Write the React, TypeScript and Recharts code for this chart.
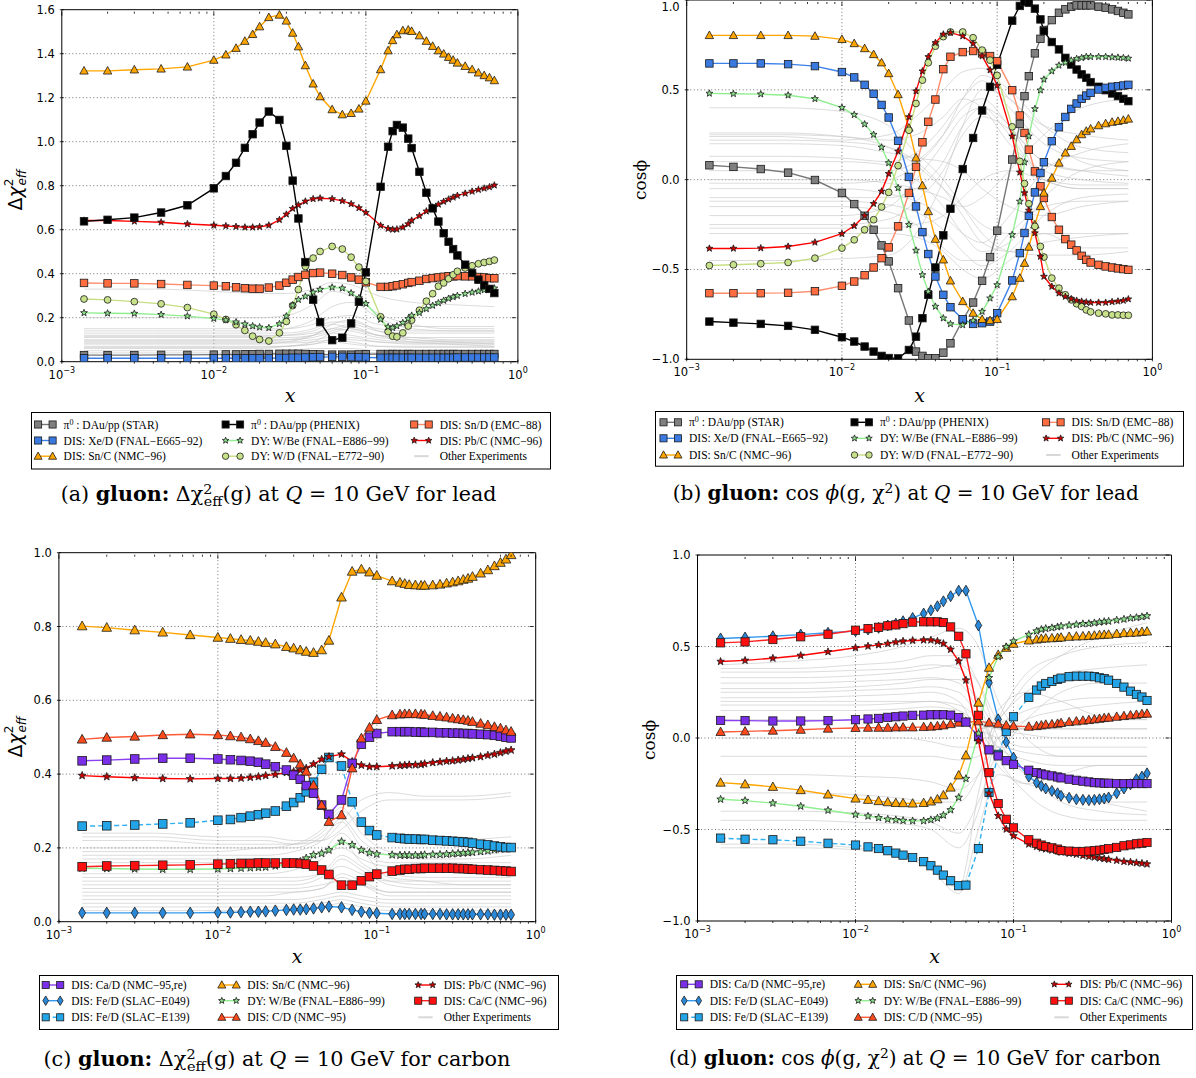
import React from "react";
import { ComposedChart, Line, XAxis, YAxis, ReferenceLine, ReferenceArea } from "recharts";

// x grid of the highlighted experiments
const X = [
  0.0014, 0.002, 0.003, 0.0045, 0.0067, 0.01,
  0.012, 0.014, 0.016, 0.018, 0.02, 0.023,
  0.027, 0.03, 0.033, 0.036, 0.04, 0.045, 0.05,
  0.06, 0.07, 0.08, 0.09, 0.1,
  0.125, 0.14, 0.15, 0.16, 0.175, 0.19, 0.2,
  0.225, 0.25, 0.275, 0.3, 0.325, 0.35, 0.375,
  0.4, 0.45, 0.5, 0.55, 0.6, 0.65, 0.7,
];
// coarser x grid for the grey "other experiments" curves
const GX = [0.0014, 0.004, 0.01, 0.02, 0.03, 0.045, 0.06, 0.08, 0.12, 0.2, 0.35, 0.7];
const X_MAJOR = [0.001, 0.01, 0.1, 1];
const X_MINOR = [0.001, 0.01, 0.1].flatMap((d) => [2, 3, 4, 5, 6, 7, 8, 9].map((m) => d * m));

// ---------- (a) lead, delta chi2 ----------
const aStar = [
  0.030, 0.030, 0.030, 0.031, 0.031, 0.032,
  0.033, 0.033, 0.034, 0.034, 0.035, 0.035,
  0.036, 0.036, 0.036, 0.036, 0.035, 0.034, 0.033,
  0.032, 0.032, 0.032, 0.033, 0.034,
  0.035, 0.035, 0.035, 0.035, 0.035, 0.035, 0.035,
  0.035, 0.035, 0.035, 0.035, 0.035, 0.035, 0.035,
  0.035, 0.035, 0.035, 0.035, 0.035, 0.035, 0.035,
];
const aXeD = [
  0.016, 0.016, 0.016, 0.016, 0.016, 0.016,
  0.016, 0.016, 0.016, 0.016, 0.016, 0.016,
  0.017, 0.017, 0.018, 0.018, 0.019, 0.020, 0.021,
  0.022, 0.022, 0.021, 0.020, 0.019,
  0.018, 0.018, 0.018, 0.018, 0.018, 0.018, 0.018,
  0.018, 0.018, 0.018, 0.018, 0.018, 0.018, 0.018,
  0.019, 0.019, 0.019, 0.019, 0.019, 0.019, 0.019,
];
const aSnC = [
  1.322, 1.322, 1.327, 1.331, 1.340, 1.371,
  1.395, 1.425, 1.457, 1.488, 1.523, 1.565,
  1.576, 1.549, 1.494, 1.432, 1.346, 1.263, 1.205,
  1.146, 1.123, 1.129, 1.149, 1.185,
  1.328, 1.414, 1.460, 1.487, 1.505, 1.508, 1.502,
  1.482, 1.457, 1.434, 1.414, 1.399, 1.384, 1.371,
  1.358, 1.343, 1.328, 1.313, 1.301, 1.291, 1.278,
];
const aPhenix = [
  0.638, 0.645, 0.655, 0.678, 0.711, 0.788,
  0.844, 0.904, 0.972, 1.034, 1.087, 1.137,
  1.099, 0.981, 0.823, 0.651, 0.453, 0.282, 0.180,
  0.098, 0.109, 0.174, 0.272, 0.406,
  0.795, 0.977, 1.048, 1.076, 1.064, 1.014, 0.971,
  0.863, 0.768, 0.697, 0.637, 0.584, 0.545, 0.512,
  0.483, 0.441, 0.403, 0.373, 0.347, 0.331, 0.312,
];
const aWBe = [
  0.222, 0.220, 0.219, 0.214, 0.207, 0.196,
  0.189, 0.180, 0.171, 0.162, 0.157, 0.154,
  0.172, 0.207, 0.257, 0.282, 0.297, 0.315, 0.328,
  0.338, 0.334, 0.312, 0.290, 0.264,
  0.192, 0.158, 0.154, 0.162, 0.177, 0.195, 0.210,
  0.222, 0.240, 0.255, 0.267, 0.278, 0.287, 0.294,
  0.300, 0.309, 0.315, 0.320, 0.326, 0.329, 0.334,
];
const aWD = [
  0.285, 0.281, 0.273, 0.263, 0.246, 0.216,
  0.192, 0.168, 0.142, 0.116, 0.101, 0.094,
  0.131, 0.183, 0.255, 0.328, 0.433, 0.471, 0.501,
  0.524, 0.512, 0.475, 0.430, 0.365,
  0.204, 0.137, 0.116, 0.113, 0.131, 0.162, 0.189,
  0.234, 0.275, 0.309, 0.343, 0.358, 0.377, 0.395,
  0.411, 0.426, 0.436, 0.445, 0.451, 0.456, 0.462,
];
const aSnD = [
  0.358, 0.356, 0.356, 0.353, 0.349, 0.346,
  0.343, 0.338, 0.334, 0.332, 0.332, 0.337,
  0.346, 0.359, 0.373, 0.385, 0.395, 0.403, 0.405,
  0.400, 0.394, 0.383, 0.373, 0.361,
  0.340, 0.340, 0.343, 0.347, 0.352, 0.358, 0.362,
  0.368, 0.376, 0.380, 0.383, 0.386, 0.388, 0.388,
  0.389, 0.388, 0.388, 0.385, 0.383, 0.380, 0.379,
];
const aPbC = [
  0.642, 0.642, 0.638, 0.634, 0.626, 0.620,
  0.617, 0.614, 0.611, 0.611, 0.613, 0.620,
  0.645, 0.670, 0.696, 0.712, 0.729, 0.740, 0.743,
  0.740, 0.731, 0.717, 0.699, 0.678,
  0.619, 0.605, 0.601, 0.602, 0.611, 0.626, 0.642,
  0.663, 0.684, 0.702, 0.715, 0.728, 0.738, 0.747,
  0.755, 0.765, 0.774, 0.782, 0.788, 0.794, 0.802,
];
const aOther = [
  [0.33, 0.33, 0.32, 0.31, 0.31, 0.33, 0.36, 0.35, 0.30, 0.27, 0.26, 0.25],
  [0.20, 0.20, 0.20, 0.20, 0.21, 0.26, 0.32, 0.30, 0.22, 0.17, 0.15, 0.15],
  [0.15, 0.15, 0.15, 0.15, 0.15, 0.17, 0.20, 0.21, 0.17, 0.16, 0.16, 0.16],
  [0.14, 0.14, 0.14, 0.14, 0.15, 0.19, 0.25, 0.27, 0.20, 0.15, 0.14, 0.14],
  [0.13, 0.13, 0.13, 0.13, 0.13, 0.15, 0.18, 0.18, 0.15, 0.14, 0.14, 0.14],
  [0.12, 0.12, 0.12, 0.12, 0.12, 0.13, 0.15, 0.17, 0.14, 0.13, 0.13, 0.13],
  [0.115, 0.115, 0.115, 0.115, 0.12, 0.14, 0.17, 0.15, 0.12, 0.11, 0.11, 0.11],
  [0.11, 0.11, 0.11, 0.11, 0.11, 0.12, 0.14, 0.16, 0.12, 0.11, 0.10, 0.10],
  [0.10, 0.10, 0.10, 0.10, 0.10, 0.11, 0.13, 0.12, 0.10, 0.09, 0.09, 0.09],
  [0.095, 0.095, 0.095, 0.095, 0.10, 0.12, 0.15, 0.14, 0.11, 0.10, 0.095, 0.095],
  [0.09, 0.09, 0.09, 0.09, 0.09, 0.10, 0.11, 0.10, 0.09, 0.08, 0.08, 0.08],
  [0.085, 0.085, 0.085, 0.085, 0.085, 0.09, 0.10, 0.11, 0.09, 0.085, 0.085, 0.085],
  [0.08, 0.08, 0.08, 0.08, 0.09, 0.12, 0.17, 0.19, 0.14, 0.10, 0.09, 0.08],
  [0.07, 0.07, 0.07, 0.07, 0.07, 0.08, 0.09, 0.08, 0.07, 0.07, 0.07, 0.07],
  [0.065, 0.065, 0.065, 0.065, 0.07, 0.08, 0.10, 0.09, 0.07, 0.065, 0.065, 0.065],
  [0.06, 0.06, 0.06, 0.06, 0.07, 0.09, 0.13, 0.15, 0.12, 0.09, 0.08, 0.07],
  [0.05, 0.05, 0.05, 0.05, 0.05, 0.06, 0.06, 0.06, 0.05, 0.05, 0.05, 0.05],
  [0.04, 0.04, 0.04, 0.04, 0.04, 0.04, 0.05, 0.05, 0.04, 0.04, 0.04, 0.04],
];

// ---------- (b) lead, cos phi ----------
const bStar = [
  0.080, 0.071, 0.059, 0.039, -0.002, -0.074,
  -0.136, -0.201, -0.279, -0.366, -0.455, -0.604,
  -0.784, -0.957, -0.981, -0.994, -0.994, -0.963, -0.911,
  -0.781, -0.684, -0.563, -0.431, -0.284,
  0.112, 0.310, 0.465, 0.576, 0.703, 0.784, 0.833,
  0.888, 0.929, 0.948, 0.963, 0.970, 0.970, 0.970,
  0.970, 0.963, 0.957, 0.948, 0.939, 0.929, 0.920,
];
const bXeD = [
  0.647, 0.647, 0.647, 0.643, 0.632, 0.599,
  0.569, 0.528, 0.478, 0.416, 0.346, 0.216,
  0.015, -0.149, -0.292, -0.414, -0.539, -0.641, -0.710,
  -0.777, -0.803, -0.799, -0.790, -0.743,
  -0.561, -0.409, -0.297, -0.201, -0.071, 0.037, 0.097,
  0.214, 0.292, 0.349, 0.394, 0.424, 0.450, 0.468,
  0.483, 0.502, 0.511, 0.517, 0.520, 0.524, 0.528,
];
const bSnC = [
  0.803, 0.803, 0.803, 0.803, 0.799, 0.781,
  0.758, 0.730, 0.697, 0.651, 0.591, 0.474,
  0.288, 0.121, -0.033, -0.177, -0.331, -0.446, -0.563,
  -0.678, -0.743, -0.777, -0.784, -0.777,
  -0.651, -0.548, -0.465, -0.375, -0.251, -0.149, -0.074,
  0.009, 0.093, 0.149, 0.186, 0.223, 0.251, 0.270,
  0.283, 0.301, 0.312, 0.320, 0.325, 0.331, 0.338,
];
const bPhenix = [
  -0.790, -0.796, -0.803, -0.814, -0.836, -0.877,
  -0.901, -0.929, -0.957, -0.981, -0.993, -0.995,
  -0.948, -0.874, -0.771, -0.641, -0.489, -0.310, -0.162,
  0.059, 0.232, 0.385, 0.517, 0.639,
  0.885, 0.967, 0.989, 0.985, 0.952, 0.892, 0.827,
  0.766, 0.725, 0.678, 0.641, 0.613, 0.586, 0.567,
  0.543, 0.517, 0.498, 0.480, 0.465, 0.450, 0.437,
];
const bWBe = [
  0.480, 0.478, 0.476, 0.470, 0.450, 0.401,
  0.361, 0.309, 0.251, 0.180, 0.093, -0.046,
  -0.251, -0.394, -0.530, -0.623, -0.706, -0.771, -0.803,
  -0.809, -0.784, -0.734, -0.660, -0.586,
  -0.307, -0.121, 0.097, 0.242, 0.394, 0.498, 0.558,
  0.604, 0.636, 0.651, 0.664, 0.673, 0.678, 0.684,
  0.684, 0.684, 0.684, 0.682, 0.680, 0.678, 0.675,
];
const bWD = [
  -0.478, -0.474, -0.468, -0.461, -0.437, -0.381,
  -0.335, -0.279, -0.223, -0.152, -0.071, 0.078,
  0.275, 0.424, 0.554, 0.651, 0.743, 0.796, 0.822,
  0.822, 0.790, 0.721, 0.665, 0.580,
  0.294, 0.102, -0.022, -0.134, -0.260, -0.372, -0.431,
  -0.548, -0.604, -0.641, -0.669, -0.691, -0.706, -0.725,
  -0.736, -0.743, -0.747, -0.753, -0.753, -0.755, -0.755,
];
const bSnD = [
  -0.632, -0.632, -0.632, -0.630, -0.621, -0.591,
  -0.567, -0.532, -0.489, -0.437, -0.377, -0.260,
  -0.074, 0.071, 0.208, 0.322, 0.446, 0.615, 0.684,
  0.710, 0.716, 0.703, 0.688, 0.660,
  0.498, 0.357, 0.260, 0.167, 0.046, -0.037, -0.102,
  -0.208, -0.279, -0.331, -0.362, -0.394, -0.424, -0.446,
  -0.461, -0.474, -0.483, -0.489, -0.494, -0.498, -0.502,
];
const bPbC = [
  -0.383, -0.383, -0.381, -0.372, -0.349, -0.301,
  -0.257, -0.201, -0.134, -0.065, 0.033, 0.158,
  0.349, 0.493, 0.604, 0.684, 0.762, 0.809, 0.818,
  0.799, 0.758, 0.688, 0.610, 0.524,
  0.242, 0.041, -0.074, -0.171, -0.297, -0.428, -0.539,
  -0.595, -0.632, -0.651, -0.664, -0.673, -0.678, -0.682,
  -0.684, -0.684, -0.684, -0.680, -0.677, -0.673, -0.665,
];
const bOther = [
  [0.40, 0.40, 0.38, 0.30, 0.15, 0.00, -0.15, -0.30, -0.40, -0.42, -0.42, -0.40],
  [0.26, 0.26, 0.24, 0.18, 0.08, -0.05, -0.15, -0.25, -0.30, -0.30, -0.30, -0.30],
  [0.25, 0.25, 0.24, 0.22, 0.25, 0.35, 0.45, 0.40, 0.20, 0.05, 0.00, -0.02],
  [0.24, 0.24, 0.22, 0.25, 0.35, 0.50, 0.60, 0.62, 0.45, 0.30, 0.25, 0.22],
  [0.22, 0.22, 0.21, 0.18, 0.10, -0.05, -0.20, -0.35, -0.40, -0.35, -0.32, -0.30],
  [0.20, 0.20, 0.19, 0.15, 0.12, 0.10, 0.05, -0.05, -0.15, -0.20, -0.15, -0.12],
  [0.13, 0.13, 0.12, 0.10, 0.15, 0.30, 0.45, 0.55, 0.40, 0.20, 0.12, 0.10],
  [0.10, 0.10, 0.10, 0.08, 0.00, -0.15, -0.30, -0.40, -0.35, -0.10, 0.05, 0.10],
  [0.05, 0.05, 0.05, 0.05, 0.10, 0.25, 0.40, 0.45, 0.30, 0.10, 0.05, 0.05],
  [0.00, 0.00, 0.00, -0.02, -0.05, -0.10, -0.15, -0.10, 0.05, 0.25, 0.40, 0.45],
  [-0.02, -0.02, -0.02, 0.00, 0.08, 0.25, 0.45, 0.58, 0.50, 0.30, 0.18, 0.15],
  [-0.05, -0.05, -0.05, -0.08, -0.12, -0.20, -0.30, -0.35, -0.20, 0.05, 0.15, 0.20],
  [-0.10, -0.10, -0.10, -0.10, -0.05, 0.10, 0.30, 0.40, 0.30, 0.00, -0.05, -0.05],
  [-0.12, -0.12, -0.12, -0.14, -0.18, -0.28, -0.40, -0.48, -0.40, -0.20, -0.10, -0.08],
  [-0.15, -0.15, -0.15, -0.18, -0.25, -0.38, -0.45, -0.45, -0.30, -0.15, -0.12, -0.12],
  [-0.20, -0.20, -0.20, -0.15, 0.00, 0.20, 0.35, 0.40, 0.25, 0.00, -0.05, -0.05],
  [-0.25, -0.25, -0.25, -0.22, -0.12, 0.05, 0.25, 0.35, 0.28, 0.10, 0.05, 0.02],
  [-0.27, -0.27, -0.27, -0.27, -0.25, -0.20, -0.10, 0.00, 0.05, 0.00, -0.03, -0.03],
  [-0.30, -0.30, -0.30, -0.30, -0.32, -0.40, -0.50, -0.55, -0.45, -0.30, -0.38, -0.38],
  [-0.45, -0.45, -0.44, -0.42, -0.30, 0.00, 0.30, 0.50, 0.45, 0.25, 0.10, 0.05],
];

// ---------- (c) carbon, delta chi2 ----------
const cCaD = [
  0.436, 0.438, 0.441, 0.443, 0.443, 0.441,
  0.439, 0.437, 0.435, 0.432, 0.427, 0.420,
  0.411, 0.397, 0.386, 0.369, 0.348, 0.316, 0.291,
  0.330, 0.429, 0.481, 0.500, 0.510,
  0.515, 0.515, 0.515, 0.515, 0.514, 0.514, 0.513,
  0.513, 0.512, 0.512, 0.511, 0.511, 0.510, 0.510,
  0.509, 0.508, 0.507, 0.505, 0.503, 0.500, 0.498,
];
const cFeD049 = [
  0.024, 0.024, 0.024, 0.024, 0.024, 0.025,
  0.025, 0.026, 0.027, 0.027, 0.028, 0.030,
  0.032, 0.033, 0.033, 0.034, 0.036, 0.039, 0.041,
  0.039, 0.032, 0.027, 0.024, 0.023,
  0.021, 0.021, 0.021, 0.021, 0.021, 0.021, 0.021,
  0.021, 0.021, 0.020, 0.020, 0.020, 0.020, 0.020,
  0.020, 0.020, 0.020, 0.019, 0.019, 0.019, 0.019,
];
const cFeD139 = [
  0.259, 0.260, 0.262, 0.265, 0.268, 0.275,
  0.277, 0.282, 0.286, 0.290, 0.294, 0.300,
  0.313, 0.323, 0.336, 0.352, 0.378, 0.413, 0.445,
  0.422, 0.325, 0.270, 0.247, 0.235,
  0.228, 0.226, 0.225, 0.224, 0.224, 0.223, 0.223,
  0.221, 0.220, 0.219, 0.218, 0.217, 0.216, 0.215,
  0.213, 0.210, 0.208, 0.205, 0.203, 0.201, 0.201,
];
const cSnC = [
  0.801, 0.797, 0.790, 0.784, 0.777, 0.770,
  0.767, 0.764, 0.762, 0.759, 0.756, 0.752,
  0.745, 0.741, 0.736, 0.732, 0.729, 0.736, 0.762,
  0.879, 0.949, 0.955, 0.947, 0.938,
  0.923, 0.919, 0.916, 0.913, 0.912, 0.911, 0.911,
  0.912, 0.914, 0.917, 0.920, 0.923, 0.927, 0.930,
  0.935, 0.944, 0.953, 0.964, 0.973, 0.982, 0.994,
];
const cWBe = [
  0.145, 0.144, 0.143, 0.142, 0.142, 0.143,
  0.144, 0.145, 0.146, 0.147, 0.148, 0.151,
  0.156, 0.160, 0.163, 0.172, 0.181, 0.185, 0.194,
  0.217, 0.208, 0.194, 0.187, 0.183,
  0.181, 0.180, 0.180, 0.180, 0.180, 0.180, 0.181,
  0.182, 0.182, 0.183, 0.184, 0.185, 0.186, 0.187,
  0.188, 0.190, 0.192, 0.195, 0.197, 0.199, 0.201,
];
const cCD = [
  0.494, 0.499, 0.502, 0.506, 0.508, 0.506,
  0.503, 0.500, 0.495, 0.490, 0.485, 0.474,
  0.458, 0.443, 0.427, 0.407, 0.370, 0.316, 0.271,
  0.289, 0.416, 0.497, 0.526, 0.547,
  0.560, 0.562, 0.563, 0.563, 0.563, 0.562, 0.561,
  0.558, 0.556, 0.554, 0.551, 0.549, 0.547, 0.545,
  0.542, 0.537, 0.533, 0.528, 0.524, 0.519, 0.515,
];
const cPbC = [
  0.396, 0.393, 0.390, 0.388, 0.387, 0.388,
  0.388, 0.389, 0.391, 0.393, 0.396, 0.399,
  0.404, 0.407, 0.411, 0.416, 0.427, 0.440, 0.447,
  0.454, 0.434, 0.424, 0.420, 0.420,
  0.422, 0.423, 0.424, 0.425, 0.425, 0.426, 0.428,
  0.431, 0.433, 0.435, 0.436, 0.438, 0.440, 0.442,
  0.444, 0.447, 0.451, 0.454, 0.458, 0.462, 0.465,
];
const cCaC = [
  0.149, 0.151, 0.152, 0.153, 0.154, 0.156,
  0.157, 0.158, 0.158, 0.159, 0.159, 0.159,
  0.159, 0.159, 0.158, 0.156, 0.151, 0.140, 0.128,
  0.099, 0.099, 0.111, 0.122, 0.129,
  0.137, 0.140, 0.142, 0.142, 0.144, 0.144, 0.145,
  0.145, 0.145, 0.145, 0.145, 0.144, 0.144, 0.143,
  0.142, 0.141, 0.140, 0.139, 0.138, 0.137, 0.136,
];
const cOther = [
  [0.24, 0.24, 0.23, 0.23, 0.22, 0.22, 0.25, 0.30, 0.33, 0.33, 0.33, 0.34],
  [0.23, 0.23, 0.22, 0.22, 0.21, 0.22, 0.27, 0.33, 0.35, 0.34, 0.34, 0.35],
  [0.22, 0.22, 0.21, 0.21, 0.21, 0.24, 0.30, 0.26, 0.22, 0.21, 0.22, 0.23],
  [0.20, 0.20, 0.20, 0.20, 0.21, 0.25, 0.31, 0.24, 0.19, 0.18, 0.18, 0.19],
  [0.19, 0.19, 0.19, 0.20, 0.20, 0.23, 0.27, 0.20, 0.12, 0.11, 0.10, 0.10],
  [0.18, 0.18, 0.18, 0.18, 0.19, 0.22, 0.28, 0.22, 0.18, 0.17, 0.17, 0.18],
  [0.17, 0.17, 0.17, 0.17, 0.17, 0.19, 0.24, 0.19, 0.16, 0.16, 0.16, 0.16],
  [0.16, 0.16, 0.16, 0.16, 0.16, 0.18, 0.20, 0.17, 0.15, 0.15, 0.15, 0.15],
  [0.13, 0.13, 0.13, 0.13, 0.14, 0.17, 0.22, 0.16, 0.13, 0.12, 0.12, 0.12],
  [0.12, 0.12, 0.12, 0.12, 0.12, 0.13, 0.15, 0.13, 0.11, 0.11, 0.11, 0.11],
  [0.11, 0.11, 0.11, 0.11, 0.11, 0.13, 0.18, 0.15, 0.11, 0.10, 0.10, 0.10],
  [0.10, 0.10, 0.10, 0.10, 0.10, 0.12, 0.17, 0.14, 0.10, 0.09, 0.09, 0.09],
  [0.09, 0.09, 0.09, 0.09, 0.09, 0.10, 0.11, 0.10, 0.08, 0.08, 0.08, 0.08],
  [0.08, 0.08, 0.08, 0.08, 0.08, 0.09, 0.13, 0.11, 0.08, 0.08, 0.08, 0.08],
  [0.07, 0.07, 0.07, 0.07, 0.08, 0.09, 0.12, 0.10, 0.07, 0.07, 0.07, 0.07],
  [0.06, 0.06, 0.06, 0.06, 0.06, 0.07, 0.08, 0.07, 0.06, 0.06, 0.06, 0.06],
  [0.05, 0.05, 0.05, 0.05, 0.05, 0.06, 0.07, 0.06, 0.05, 0.05, 0.05, 0.05],
  [0.04, 0.04, 0.04, 0.04, 0.04, 0.05, 0.06, 0.05, 0.04, 0.04, 0.04, 0.04],
  [0.03, 0.03, 0.03, 0.03, 0.03, 0.04, 0.05, 0.04, 0.03, 0.03, 0.03, 0.03],
];

// ---------- (d) carbon, cos phi ----------
const dCaD = [
  0.096, 0.095, 0.093, 0.093, 0.095, 0.100,
  0.104, 0.107, 0.113, 0.116, 0.120, 0.124,
  0.125, 0.127, 0.127, 0.127, 0.125, 0.111, 0.087,
  0.007, -0.065, -0.098, -0.124, -0.144,
  -0.176, -0.189, -0.196, -0.202, -0.207, -0.213, -0.218,
  -0.225, -0.231, -0.236, -0.240, -0.244, -0.245, -0.247,
  -0.247, -0.249, -0.249, -0.249, -0.249, -0.249, -0.249,
];
const dFeD049 = [
  0.544, 0.549, 0.556, 0.565, 0.575, 0.584,
  0.593, 0.602, 0.615, 0.625, 0.638, 0.656,
  0.680, 0.698, 0.720, 0.747, 0.775, 0.805, 0.805,
  0.615, 0.302, 0.102, -0.022, -0.107,
  -0.211, -0.244, -0.262, -0.276, -0.289, -0.302, -0.316,
  -0.327, -0.335, -0.338, -0.340, -0.338, -0.335, -0.331,
  -0.325, -0.302, -0.276, -0.253, -0.225, -0.211, -0.193,
];
const dFeD139 = [
  -0.547, -0.553, -0.556, -0.564, -0.575, -0.585,
  -0.595, -0.604, -0.616, -0.629, -0.640, -0.653,
  -0.676, -0.698, -0.722, -0.749, -0.780, -0.807, -0.804,
  -0.604, -0.298, -0.089, 0.035, 0.116,
  0.222, 0.262, 0.284, 0.298, 0.309, 0.320, 0.327,
  0.335, 0.338, 0.338, 0.338, 0.335, 0.329, 0.324,
  0.316, 0.298, 0.278, 0.256, 0.238, 0.224, 0.205,
];
const dSnC = [
  -0.244, -0.253, -0.267, -0.285, -0.309, -0.331,
  -0.338, -0.345, -0.351, -0.355, -0.356, -0.358,
  -0.355, -0.347, -0.335, -0.313, -0.271, -0.204, -0.095,
  0.193, 0.384, 0.455, 0.493, 0.515,
  0.533, 0.538, 0.542, 0.544, 0.545, 0.547, 0.549,
  0.553, 0.555, 0.556, 0.558, 0.560, 0.562, 0.564,
  0.565, 0.569, 0.573, 0.575, 0.576, 0.580, 0.582,
];
const dWBe = [
  -0.335, -0.342, -0.356, -0.373, -0.395, -0.418,
  -0.427, -0.436, -0.444, -0.447, -0.451, -0.453,
  -0.453, -0.447, -0.438, -0.422, -0.393, -0.325, -0.222,
  0.025, 0.329, 0.444, 0.498, 0.529,
  0.565, 0.584, 0.593, 0.598, 0.602, 0.607, 0.611,
  0.616, 0.620, 0.624, 0.625, 0.629, 0.633, 0.636,
  0.638, 0.644, 0.649, 0.655, 0.658, 0.662, 0.667,
];
const dCD = [
  0.033, 0.036, 0.040, 0.045, 0.051, 0.055,
  0.056, 0.056, 0.056, 0.058, 0.058, 0.058,
  0.060, 0.062, 0.065, 0.069, 0.076, 0.084, 0.087,
  0.091, 0.084, 0.078, 0.069, 0.065,
  0.062, 0.065, 0.069, 0.073, 0.075, 0.078, 0.082,
  0.087, 0.091, 0.095, 0.098, 0.102, 0.105, 0.109,
  0.111, 0.116, 0.120, 0.124, 0.127, 0.131, 0.133,
];
const dPbC = [
  0.418, 0.424, 0.436, 0.451, 0.471, 0.493,
  0.502, 0.509, 0.516, 0.524, 0.529, 0.533,
  0.535, 0.535, 0.529, 0.516, 0.484, 0.420, 0.316,
  -0.016, -0.302, -0.425, -0.498, -0.535,
  -0.580, -0.593, -0.602, -0.607, -0.613, -0.618, -0.624,
  -0.631, -0.636, -0.642, -0.647, -0.651, -0.656, -0.660,
  -0.664, -0.669, -0.675, -0.678, -0.682, -0.685, -0.689,
];
const dCaC = [
  0.520, 0.525, 0.538, 0.553, 0.567, 0.589,
  0.598, 0.605, 0.613, 0.618, 0.625, 0.633,
  0.635, 0.635, 0.635, 0.631, 0.607, 0.556, 0.460,
  0.124, -0.189, -0.358, -0.444, -0.491,
  -0.556, -0.575, -0.585, -0.593, -0.600, -0.607, -0.615,
  -0.618, -0.620, -0.620, -0.618, -0.616, -0.613, -0.609,
  -0.605, -0.598, -0.589, -0.584, -0.578, -0.575, -0.571,
];
const dOther = [
  [0.40, 0.42, 0.45, 0.50, 0.55, 0.60, 0.50, 0.20, 0.00, -0.10, -0.10, -0.10],
  [0.38, 0.38, 0.40, 0.42, 0.45, 0.45, 0.30, 0.00, -0.20, -0.30, -0.35, -0.40],
  [0.36, 0.36, 0.37, 0.38, 0.40, 0.38, 0.20, -0.10, -0.30, -0.42, -0.45, -0.45],
  [0.33, 0.33, 0.34, 0.36, 0.38, 0.40, 0.30, 0.10, 0.05, 0.08, 0.10, 0.10],
  [0.30, 0.30, 0.31, 0.32, 0.33, 0.30, 0.15, -0.05, 0.10, 0.25, 0.30, 0.30],
  [0.27, 0.27, 0.28, 0.30, 0.32, 0.32, 0.20, 0.05, 0.02, 0.00, 0.00, 0.00],
  [0.25, 0.25, 0.26, 0.27, 0.28, 0.25, 0.10, -0.15, -0.25, -0.20, -0.15, -0.15],
  [0.22, 0.22, 0.23, 0.24, 0.25, 0.20, 0.05, 0.10, 0.30, 0.45, 0.55, 0.63],
  [0.20, 0.20, 0.20, 0.20, 0.20, 0.15, 0.05, 0.00, -0.05, -0.05, -0.05, -0.05],
  [0.18, 0.18, 0.18, 0.19, 0.20, 0.18, 0.10, -0.05, -0.12, -0.15, -0.15, -0.15],
  [0.15, 0.15, 0.15, 0.16, 0.17, 0.15, 0.08, 0.05, 0.05, 0.05, 0.05, 0.05],
  [0.10, 0.10, 0.10, 0.11, 0.12, 0.10, 0.05, 0.08, 0.15, 0.20, 0.22, 0.22],
  [0.00, 0.00, 0.00, 0.00, -0.02, -0.05, -0.05, 0.10, 0.25, 0.35, 0.38, 0.40],
  [-0.10, -0.10, -0.10, -0.10, -0.10, -0.12, -0.10, 0.00, 0.10, 0.15, 0.18, 0.20],
  [-0.20, -0.20, -0.21, -0.22, -0.24, -0.28, -0.20, -0.05, -0.08, -0.10, -0.10, -0.10],
  [-0.30, -0.30, -0.31, -0.33, -0.35, -0.35, -0.20, 0.10, 0.35, 0.45, 0.50, 0.52],
  [-0.40, -0.40, -0.41, -0.43, -0.46, -0.52, -0.35, -0.10, -0.20, -0.35, -0.40, -0.42],
  [-0.45, -0.45, -0.46, -0.47, -0.50, -0.60, -0.40, 0.00, 0.05, 0.05, 0.05, 0.05],
  [-0.60, -0.60, -0.61, -0.65, -0.72, -0.85, -0.50, -0.20, -0.25, -0.30, -0.35, -0.35],
  [-0.58, -0.58, -0.60, -0.63, -0.70, -0.82, -0.30, 0.15, 0.25, 0.20, 0.12, 0.10],
];

type Shape = "square" | "circle" | "triangle" | "diamond" | "star";
interface Sty { line: string; face: string; shape: Shape; dashed?: boolean; }

const STY: Record<string, Sty> = {
  star: { line: "#777777", face: "#7f7f7f", shape: "square" },
  phenix: { line: "#000000", face: "#000000", shape: "square" },
  snd: { line: "#ff8c6a", face: "#ff6c40", shape: "square" },
  xed: { line: "#3d80e8", face: "#3a7ae0", shape: "square" },
  wbe: { line: "#90ee90", face: "#8ee08e", shape: "star" },
  pbc: { line: "#ff0000", face: "#c80000", shape: "star" },
  snc: { line: "#ffa500", face: "#ffa500", shape: "triangle" },
  wd: { line: "#c6de82", face: "#c8e28c", shape: "circle" },
  cad: { line: "#8a40f0", face: "#7a2ee8", shape: "square" },
  fe049: { line: "#3399ee", face: "#2a88d8", shape: "diamond" },
  fe139: { line: "#33b0f0", face: "#22a4e6", shape: "square", dashed: true },
  cd: { line: "#ff5a36", face: "#ff4a1c", shape: "triangle" },
  cac: { line: "#ff2020", face: "#ff1010", shape: "square" },
};

function Marker({ shape, cx, cy, fill, k }: { shape: Shape; cx: number; cy: number; fill: string; k: number }) {
  const st = "#1a1a1a";
  const sw = 0.8;
  if (cx == null || cy == null) return null;
  if (shape === "square") {
    const s = 7.5 * k;
    return <rect x={cx - s / 2} y={cy - s / 2} width={s} height={s} fill={fill} stroke={st} strokeWidth={sw} />;
  }
  if (shape === "circle") {
    return <circle cx={cx} cy={cy} r={3.4 * k} fill={fill} stroke={st} strokeWidth={sw} />;
  }
  if (shape === "triangle") {
    const w = 4.2 * k;
    const pts = `${cx},${cy - 4.4 * k} ${cx - w},${cy + 3.2 * k} ${cx + w},${cy + 3.2 * k}`;
    return <polygon points={pts} fill={fill} stroke={st} strokeWidth={sw} />;
  }
  if (shape === "diamond") {
    const pts = `${cx},${cy - 5 * k} ${cx + 3 * k},${cy} ${cx},${cy + 5 * k} ${cx - 3 * k},${cy}`;
    return <polygon points={pts} fill={fill} stroke={st} strokeWidth={sw} />;
  }
  const pts: string[] = [];
  for (let i = 0; i < 10; i++) {
    const r = i % 2 === 0 ? 3.6 * k : 1.5 * k;
    const a = -Math.PI / 2 + (i * Math.PI) / 5;
    pts.push(`${cx + r * Math.cos(a)},${cy + r * Math.sin(a)}`);
  }
  return <polygon points={pts.join(" ")} fill={fill} stroke={st} strokeWidth={sw} />;
}

const rows = (xs: number[], ys: number[]) => xs.map((x, i) => ({ x, y: ys[i] }));

// x tick: label for decades, inward tick marks at bottom and top of the frame
const makeXTick = (plotH: number) => (p: any) => {
  const v = p.payload.value as number;
  const lg = Math.log10(v);
  const major = Math.abs(lg - Math.round(lg)) < 1e-6;
  const L = major ? 4 : 2;
  const e = Math.round(lg);
  return (
    <g>
      <line x1={p.x} x2={p.x} y1={p.y} y2={p.y - L} stroke="#000" strokeWidth={0.8} />
      <line x1={p.x} x2={p.x} y1={p.y - plotH} y2={p.y - plotH + L} stroke="#000" strokeWidth={0.8} />
      {major && (
        <text x={p.x} y={p.y + 15} textAnchor="middle" fontFamily="DejaVu Sans" fontSize={11.5} fill="#000">
          10<tspan dy={-6} fontSize={8}>{e === 0 ? "0" : `\u2212${-e}`}</tspan>
        </text>
      )}
    </g>
  );
};

const makeYTick = (plotW: number) => (p: any) => {
  const v = p.payload.value as number;
  const s = v.toFixed(1).replace("-", "\u2212");
  return (
    <g>
      <line x1={p.x} x2={p.x + 4} y1={p.y} y2={p.y} stroke="#000" strokeWidth={0.8} />
      <line x1={p.x + plotW - 4} x2={p.x + plotW} y1={p.y} y2={p.y} stroke="#000" strokeWidth={0.8} />
      <text x={p.x - 5} y={Math.max(p.y + 4, 11)} textAnchor="end" fontFamily="DejaVu Sans" fontSize={11.5} fill="#000">
        {s}
      </text>
    </g>
  );
};

interface SeriesDef { id: string; sty: Sty; values: number[]; }
interface PanelCfg {
  left: number; top: number; w: number; h: number;
  margin: { top: number; right: number; bottom: number; left: number };
  yDomain: [number, number]; yTicks: number[]; k: number;
  series: SeriesDef[]; other: number[][];
}

const GRID = { stroke: "#333", strokeDasharray: "1 2.5", strokeWidth: 0.7 };

function Panel({ cfg }: { cfg: PanelCfg }) {
  const plotW = cfg.w - cfg.margin.left - cfg.margin.right - 40;
  const plotH = cfg.h - cfg.margin.top - cfg.margin.bottom - 24;
  return (
    <div style={{ position: "absolute", left: cfg.left, top: cfg.top }}>
      <ComposedChart width={cfg.w} height={cfg.h} margin={cfg.margin}>
        <XAxis dataKey="x" type="number" scale="log" domain={[0.001, 1]} ticks={[...X_MAJOR, ...X_MINOR]} allowDataOverflow
          height={24} axisLine={false} tickLine={false} tickSize={0} tick={makeXTick(plotH)} interval={0} />
        <YAxis type="number" domain={cfg.yDomain} ticks={cfg.yTicks} allowDataOverflow width={40}
          axisLine={false} tickLine={false} tickSize={0} tick={makeYTick(plotW)} interval={0} />
        {[0.01, 0.1].map((v) => <ReferenceLine key={`vx${v}`} x={v} {...GRID} />)}
        {cfg.yTicks.slice(1, -1).map((v) => <ReferenceLine key={`hy${v}`} y={v} {...GRID} />)}
        {cfg.other.map((g, i) => (
          <Line key={`o${i}`} data={rows(GX, g)} dataKey="y" type="monotone" stroke="#c4c4c4"
            strokeOpacity={0.6} strokeWidth={1} dot={false} activeDot={false} isAnimationActive={false} />
        ))}
        {cfg.series.map((s) => (
          <Line key={s.id} data={rows(X, s.values)} dataKey="y" type="linear" stroke={s.sty.line}
            strokeWidth={1.4} strokeDasharray={s.sty.dashed ? "5 3" : undefined}
            dot={(p: any) => <Marker key={`${s.id}-${p.index}`} shape={s.sty.shape} cx={p.cx} cy={p.cy} fill={s.sty.face} k={cfg.k} />}
            activeDot={false} isAnimationActive={false} />
        ))}
        <ReferenceArea x1={0.001} x2={1} y1={cfg.yDomain[0]} y2={cfg.yDomain[1]} fill="none" fillOpacity={0}
          stroke="#000" strokeWidth={1} ifOverflow="visible" />
      </ComposedChart>
    </div>
  );
}

const CHI_A = [0, 0.2, 0.4, 0.6, 0.8, 1.0, 1.2, 1.4, 1.6];
const CHI_C = [0, 0.2, 0.4, 0.6, 0.8, 1.0];
const COS = [-1, -0.5, 0, 0.5, 1];

const panelA: PanelCfg = {
  left: 0, top: 0, w: 540, h: 390, margin: { top: 9.7, right: 22.1, bottom: 4.3, left: 21.8 },
  yDomain: [0, 1.6], yTicks: CHI_A, k: 1, other: aOther,
  series: [
    { id: "star", sty: STY.star, values: aStar },
    { id: "xed", sty: STY.xed, values: aXeD },
    { id: "snd", sty: STY.snd, values: aSnD },
    { id: "wd", sty: STY.wd, values: aWD },
    { id: "wbe", sty: STY.wbe, values: aWBe },
    { id: "snc", sty: STY.snc, values: aSnC },
    { id: "pbc", sty: STY.pbc, values: aPbC },
    { id: "phenix", sty: STY.phenix, values: aPhenix },
  ],
};
const panelB: PanelCfg = {
  left: 630, top: 0, w: 540, h: 390, margin: { top: 0, right: 17.6, bottom: 6.7, left: 16.7 },
  yDomain: [-1, 1], yTicks: COS, k: 1, other: bOther,
  series: [
    { id: "star", sty: STY.star, values: bStar },
    { id: "phenix", sty: STY.phenix, values: bPhenix },
    { id: "snd", sty: STY.snd, values: bSnD },
    { id: "xed", sty: STY.xed, values: bXeD },
    { id: "snc", sty: STY.snc, values: bSnC },
    { id: "wbe", sty: STY.wbe, values: bWBe },
    { id: "wd", sty: STY.wd, values: bWD },
    { id: "pbc", sty: STY.pbc, values: bPbC },
  ],
};
const panelC: PanelCfg = {
  left: 0, top: 540, w: 560, h: 410, margin: { top: 12.7, right: 24.3, bottom: 4.3, left: 18.9 },
  yDomain: [0, 1.0], yTicks: CHI_C, k: 1.15, other: cOther,
  series: [
    { id: "fe049", sty: STY.fe049, values: cFeD049 },
    { id: "wbe", sty: STY.wbe, values: cWBe },
    { id: "cac", sty: STY.cac, values: cCaC },
    { id: "fe139", sty: STY.fe139, values: cFeD139 },
    { id: "pbc", sty: STY.pbc, values: cPbC },
    { id: "cad", sty: STY.cad, values: cCaD },
    { id: "cd", sty: STY.cd, values: cCD },
    { id: "snc", sty: STY.snc, values: cSnC },
  ],
};
const panelD: PanelCfg = {
  left: 630, top: 540, w: 560, h: 410, margin: { top: 15, right: 18.5, bottom: 5, left: 27.5 },
  yDomain: [-1, 1], yTicks: COS, k: 1.1, other: dOther,
  series: [
    { id: "fe139", sty: STY.fe139, values: dFeD139 },
    { id: "fe049", sty: STY.fe049, values: dFeD049 },
    { id: "cd", sty: STY.cd, values: dCD },
    { id: "cad", sty: STY.cad, values: dCaD },
    { id: "snc", sty: STY.snc, values: dSnC },
    { id: "wbe", sty: STY.wbe, values: dWBe },
    { id: "pbc", sty: STY.pbc, values: dPbC },
    { id: "cac", sty: STY.cac, values: dCaC },
  ],
};

const PI0 = (rest: string) => (
  <>{"\u03c0"}<tspan dy={-4} fontSize={8}>0</tspan><tspan dy={4}>{rest}</tspan></>
);
const LEAD_LEGEND: [React.ReactNode, Sty | null][] = [
  [PI0(" :  DAu/pp (STAR)"), STY.star],
  ["DIS: Xe/D (FNAL\u2212E665\u221292)", STY.xed],
  ["DIS: Sn/C (NMC\u221296)", STY.snc],
  [PI0(" :  DAu/pp (PHENIX)"), STY.phenix],
  ["DY: W/Be (FNAL\u2212E886\u221299)", STY.wbe],
  ["DY: W/D (FNAL\u2212E772\u221290)", STY.wd],
  ["DIS: Sn/D (EMC\u221288)", STY.snd],
  ["DIS: Pb/C (NMC\u221296)", STY.pbc],
  ["Other Experiments", null],
];
const CARBON_LEGEND: [React.ReactNode, Sty | null][] = [
  ["DIS: Ca/D (NMC\u221295,re)", STY.cad],
  ["DIS: Fe/D (SLAC\u2212E049)", STY.fe049],
  ["DIS: Fe/D (SLAC\u2212E139)", STY.fe139],
  ["DIS: Sn/C (NMC\u221296)", STY.snc],
  ["DY: W/Be (FNAL\u2212E886\u221299)", STY.wbe],
  ["DIS: C/D (NMC\u221295)", STY.cd],
  ["DIS: Pb/C (NMC\u221296)", STY.pbc],
  ["DIS: Ca/C (NMC\u221296)", STY.cac],
  ["Other Experiments", null],
];

function LegendBox({ x, y, w, h, mk, ry, items }: {
  x: number; y: number; w: number; h: number; mk: number[]; ry: number[];
  items: [React.ReactNode, Sty | null][];
}) {
  return (
    <svg style={{ position: "absolute", left: x, top: y }} width={w + 2} height={h + 2}>
      <rect x={0.5} y={0.5} width={w} height={h} fill="#fff" stroke="#000" strokeWidth={1} />
      {items.map(([label, sty], i) => {
        const col = Math.floor(i / 3);
        const row = i % 3;
        const x0 = mk[col] + 3.5;
        const x1 = x0 + 14.5;
        const yy = ry[row];
        return (
          <g key={i}>
            {sty ? (
              <>
                <line x1={x0} x2={x1} y1={yy} y2={yy} stroke={sty.line} strokeWidth={1.4}
                  strokeDasharray={sty.dashed ? "4 3" : undefined} />
                <Marker shape={sty.shape} cx={x0} cy={yy} fill={sty.face} k={0.95} />
                <Marker shape={sty.shape} cx={x1} cy={yy} fill={sty.face} k={0.95} />
              </>
            ) : (
              <line x1={x0} x2={x1} y1={yy} y2={yy} stroke="#d8d8d8" strokeWidth={2} />
            )}
            <text x={mk[col] + 29} y={yy + 4} fontFamily="Liberation Serif" fontSize={11.5} fill="#000">{label}</text>
          </g>
        );
      })}
    </svg>
  );
}

const CHI_LABEL = (tx: number, ty: number) => (
  <text transform={`translate(${tx},${ty}) rotate(-90)`} textAnchor="middle" fontFamily="DejaVu Sans" fontSize={19}>
    {"\u0394"}<tspan fontStyle="italic">{"\u03c7"}</tspan><tspan dy={-9} fontSize={12}>2</tspan>
    <tspan dx={-7} dy={13} fontSize={12} fontStyle="italic">eff</tspan>
  </text>
);
const COS_LABEL = (tx: number, ty: number) => (
  <text transform={`translate(${tx},${ty}) rotate(-90)`} textAnchor="middle" fontFamily="DejaVu Serif" fontSize={17}>
    cos{"\u03d5"}
  </text>
);
const XLAB = (tx: number, ty: number) => (
  <text x={tx} y={ty} textAnchor="middle" fontFamily="DejaVu Serif" fontStyle="italic" fontSize={19}>x</text>
);

function Caption({ cx, y, len, tag, chi, target }: { cx: number; y: number; len: number; tag: string; chi: boolean; target: string }) {
  return (
    <text x={cx} y={y} textAnchor="middle" fontFamily="DejaVu Serif" fontSize={19.5} textLength={len} lengthAdjust="spacingAndGlyphs">
      {`(${tag}) `}<tspan fontWeight="bold">gluon:</tspan>
      {chi ? (
        <>
          <tspan>{" \u0394\u03c7"}</tspan>
          <tspan dy={-7} fontSize={13.5}>2</tspan>
          <tspan dx={-8} dy={12} fontSize={13.5}>eff</tspan>
          <tspan dy={-5}>{"(g) at "}</tspan>
        </>
      ) : (
        <>
          <tspan>{" cos "}</tspan>
          <tspan fontStyle="italic">{"\u03d5"}</tspan>
          <tspan>{"(g, \u03c7"}</tspan>
          <tspan dy={-7} fontSize={13.5}>2</tspan>
          <tspan dy={7}>{") at "}</tspan>
        </>
      )}
      <tspan fontStyle="italic">Q</tspan>
      <tspan>{` = 10 GeV for ${target}`}</tspan>
    </text>
  );
}

export default function App() {
  return (
    <div style={{ position: "absolute", left: 0, top: 0, width: 1196, height: 1078, background: "#fff", overflow: "hidden" }}>
      <Panel cfg={panelA} />
      <Panel cfg={panelB} />
      <Panel cfg={panelC} />
      <Panel cfg={panelD} />
      <LegendBox x={31} y={411.5} w={519} h={56.5} mk={[3.6, 191.1, 379.7]} ry={[12.5, 28.5, 44.2]} items={LEAD_LEGEND} />
      <LegendBox x={655} y={411} w={528} h={54.7} mk={[5, 196, 387.6]} ry={[11.3, 27.3, 44]} items={LEAD_LEGEND} />
      <LegendBox x={38.6} y={975} w={519} h={54} mk={[3.2, 179.3, 375.7]} ry={[10, 25.7, 42.3]} items={CARBON_LEGEND} />
      <LegendBox x={675.8} y={975} w={516} h={54} mk={[4.7, 178.7, 374.8]} ry={[9.3, 25.7, 42.3]} items={CARBON_LEGEND} />
      <svg style={{ position: "absolute", left: 0, top: 0, pointerEvents: "none" }} width={1196} height={1078}>
        {CHI_LABEL(22, 190)}
        {COS_LABEL(646, 180)}
        {CHI_LABEL(22, 737)}
        {COS_LABEL(655, 740)}
        {XLAB(290, 402)}
        {XLAB(919.5, 402)}
        {XLAB(297, 963)}
        {XLAB(934.5, 963)}
        <Caption cx={278.6} y={501} len={435.7} tag="a" chi target="lead" />
        <Caption cx={905.8} y={500} len={466} tag="b" chi={false} target="lead" />
        <Caption cx={277} y={1066} len={467} tag="c" chi target="carbon" />
        <Caption cx={914.8} y={1065} len={491.7} tag="d" chi={false} target="carbon" />
      </svg>
    </div>
  );
}
